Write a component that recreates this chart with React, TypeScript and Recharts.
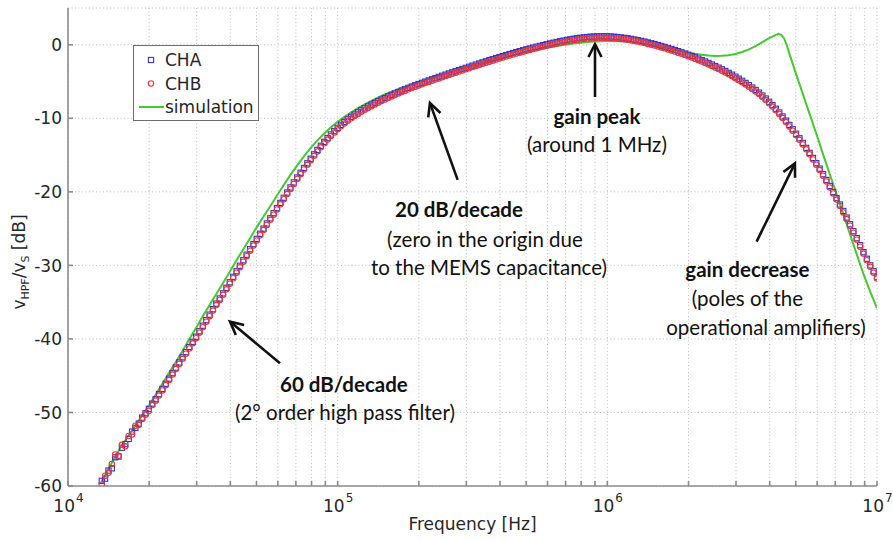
import React from 'react';
import {
  ComposedChart, Scatter, Line, XAxis, YAxis, CartesianGrid,
  ReferenceLine, ReferenceDot, Legend,
} from 'recharts';

// ---------------- data ----------------
// measurement frequencies (Hz)
const FREQ = [
  13340, 13730, 14130, 14540, 14960, 15400, 15850, 16310, 16790, 17280,
  17780, 18300, 18840, 19390, 19950, 20540, 21130, 21750, 22390, 23040,
  23710, 24410, 25120, 25850, 26610, 27380, 28180, 29010, 29850, 30720,
  31620, 32550, 33500, 34470, 35480, 36520, 37580, 38680, 39810, 40970,
  42170, 43400, 44670, 45970, 47320, 48700, 50120, 51580, 53090, 54640,
  56230, 57880, 59570, 61310, 63100, 64940, 66830, 68790, 70790, 72860,
  74990, 77180, 79430, 81750, 84140, 86600, 89130, 91730, 94410, 97160,
  100000, 102900, 105900, 109000, 112200, 115500, 118900, 122300, 125900, 129600,
  133400, 137300, 141300, 145400, 149600, 154000, 158500, 163100, 167900, 172800,
  177800, 183000, 188400, 193900, 199500, 205400, 211300, 217500, 223900, 230400,
  237100, 244100, 251200, 258500, 266100, 273800, 281800, 290100, 298500, 307200,
  316200, 325500, 335000, 344700, 354800, 365200, 375800, 386800, 398100, 409700,
  421700, 434000, 446700, 459700, 473200, 487000, 501200, 515800, 530900, 546400,
  562300, 578800, 595700, 613100, 631000, 649400, 668300, 687900, 707900, 728600,
  749900, 771800, 794300, 817500, 841400, 866000, 891300, 917300, 944100, 971600,
  1000000, 1029000, 1059000, 1090000, 1122000, 1155000, 1189000, 1223000, 1259000, 1296000,
  1334000, 1373000, 1413000, 1454000, 1496000, 1540000, 1585000, 1631000, 1679000, 1728000,
  1778000, 1830000, 1884000, 1939000, 1995000, 2054000, 2113000, 2175000, 2239000, 2304000,
  2371000, 2441000, 2512000, 2585000, 2661000, 2738000, 2818000, 2901000, 2985000, 3072000,
  3162000, 3255000, 3350000, 3447000, 3548000, 3652000, 3758000, 3868000, 3981000, 4097000,
  4217000, 4340000, 4467000, 4597000, 4732000, 4870000, 5012000, 5158000, 5309000, 5464000,
  5623000, 5788000, 5957000, 6131000, 6310000, 6494000, 6683000, 6879000, 7079000, 7286000,
  7499000, 7718000, 7943000, 8175000, 8414000, 8660000, 8913000, 9173000, 9441000, 9716000,
  10000000,
];

// channel A (dB)
const CHA = [
  -59.3, -59.0, -57.9, -57.6, -56.1, -56.0, -54.8, -54.3, -53.6, -52.6,
  -52.1, -51.5, -50.7, -50.1, -49.5, -48.8, -48.2, -47.5, -46.8, -46.1,
  -45.4, -44.65, -43.9, -43.2, -42.5, -41.8, -41.1, -40.4, -39.7, -38.95,
  -38.2, -37.45, -36.7, -35.95, -35.2, -34.5, -33.8, -33.05, -32.3, -31.55,
  -30.8, -30.05, -29.3, -28.55, -27.8, -27.1, -26.4, -25.7, -25.0, -24.3,
  -23.6, -22.9, -22.2, -21.5, -20.8, -20.1, -19.4, -18.72, -18.05, -17.4,
  -16.75, -16.12, -15.5, -14.9, -14.3, -13.74, -13.2, -12.69, -12.2, -11.74,
  -11.3, -10.89, -10.5, -10.14, -9.8, -9.49, -9.2, -8.92, -8.65, -8.39,
  -8.15, -7.91, -7.68, -7.46, -7.24, -7.03, -6.82, -6.62, -6.42, -6.23,
  -6.04, -5.86, -5.68, -5.51, -5.34, -5.17, -5.01, -4.85, -4.69, -4.53,
  -4.37, -4.21, -4.06, -3.9, -3.75, -3.6, -3.44, -3.29, -3.14, -2.99,
  -2.84, -2.69, -2.54, -2.39, -2.25, -2.1, -1.96, -1.82, -1.68, -1.54,
  -1.4, -1.26, -1.13, -1.0, -0.87, -0.74, -0.62, -0.5, -0.38, -0.26,
  -0.15, -0.04, 0.07, 0.18, 0.28, 0.38, 0.48, 0.57, 0.66, 0.74,
  0.82, 0.89, 0.95, 1.0, 1.05, 1.09, 1.12, 1.14, 1.15, 1.15,
  1.14, 1.12, 1.09, 1.05, 1.0, 0.94, 0.88, 0.8, 0.72, 0.63,
  0.53, 0.43, 0.32, 0.21, 0.09, -0.03, -0.16, -0.29, -0.43, -0.57,
  -0.72, -0.87, -1.03, -1.19, -1.36, -1.53, -1.71, -1.89, -2.08, -2.27,
  -2.47, -2.68, -2.89, -3.11, -3.34, -3.57, -3.82, -4.07, -4.34, -4.61,
  -4.9, -5.19, -5.5, -5.82, -6.15, -6.51, -6.9, -7.31, -7.75, -8.21,
  -8.7, -9.21, -9.75, -10.31, -10.9, -11.49, -12.1, -12.72, -13.35, -14.02,
  -14.7, -15.39, -16.1, -16.84, -17.6, -18.39, -19.2, -20.02, -20.85, -21.72,
  -22.6, -23.5, -24.4, -25.35, -26.3, -27.25, -28.2, -29.1, -30.0, -30.8,
  -31.6,
];

// channel B (dB)
const CHB = [
  -59.8, -58.6, -58.2, -57.0, -55.7, -55.9, -54.4, -54.6, -53.2, -53.0,
  -51.8, -51.7, -50.9, -50.3, -49.8, -49.0, -48.4, -47.7, -47.0, -46.3,
  -45.6, -44.85, -44.1, -43.4, -42.7, -42.0, -41.3, -40.6, -39.9, -39.15,
  -38.4, -37.65, -36.9, -36.15, -35.4, -34.7, -34.0, -33.25, -32.5, -31.75,
  -31.0, -30.25, -29.5, -28.75, -28.0, -27.3, -26.6, -25.9, -25.2, -24.5,
  -23.8, -23.1, -22.4, -21.7, -21.0, -20.3, -19.6, -18.92, -18.25, -17.6,
  -16.95, -16.32, -15.7, -15.1, -14.5, -13.94, -13.4, -12.89, -12.4, -11.94,
  -11.5, -11.09, -10.7, -10.34, -10.0, -9.69, -9.4, -9.12, -8.85, -8.59,
  -8.35, -8.11, -7.88, -7.66, -7.44, -7.23, -7.02, -6.82, -6.62, -6.43,
  -6.24, -6.06, -5.88, -5.71, -5.54, -5.37, -5.21, -5.05, -4.89, -4.73,
  -4.57, -4.41, -4.26, -4.1, -3.95, -3.8, -3.64, -3.49, -3.34, -3.19,
  -3.04, -2.89, -2.74, -2.59, -2.45, -2.3, -2.16, -2.02, -1.88, -1.74,
  -1.6, -1.46, -1.33, -1.2, -1.07, -0.94, -0.82, -0.7, -0.58, -0.46,
  -0.35, -0.24, -0.13, -0.02, 0.08, 0.18, 0.28, 0.37, 0.46, 0.54,
  0.62, 0.69, 0.75, 0.8, 0.85, 0.89, 0.92, 0.94, 0.95, 0.95,
  0.94, 0.92, 0.89, 0.85, 0.8, 0.74, 0.68, 0.6, 0.52, 0.43,
  0.33, 0.23, 0.12, 0.01, -0.11, -0.23, -0.36, -0.49, -0.63, -0.77,
  -0.92, -1.07, -1.23, -1.39, -1.56, -1.73, -1.91, -2.09, -2.28, -2.47,
  -2.67, -2.88, -3.09, -3.31, -3.54, -3.77, -4.02, -4.27, -4.54, -4.81,
  -5.1, -5.39, -5.7, -6.02, -6.35, -6.71, -7.1, -7.51, -7.95, -8.41,
  -8.9, -9.41, -9.95, -10.51, -11.1, -11.69, -12.3, -12.92, -13.55, -14.22,
  -14.9, -15.59, -16.3, -17.04, -17.8, -18.59, -19.4, -20.22, -21.05, -21.92,
  -22.8, -23.7, -24.6, -25.55, -26.5, -27.45, -28.4, -29.3, -30.2, -31.0,
  -31.8,
];

// simulation frequencies (Hz) and values (dB)
const SIM_FREQ = [
  13340, 14130, 14960, 15850, 16790, 17780, 18840, 19950, 21130, 22390,
  23710, 25120, 26610, 28180, 29850, 31620, 33500, 35480, 37580, 39810,
  42170, 44670, 47320, 50120, 53090, 56230, 59570, 63100, 66830, 70790,
  74990, 79430, 84140, 89130, 94410,
  100000, 105900, 112200, 118900, 125900, 133400, 141300, 149600, 158500, 167900,
  177800, 188400, 199500, 211300, 223900, 237100, 251200, 266100, 281800, 298500,
  316200, 335000, 354800, 375800, 398100, 421700, 446700, 473200, 501200, 530900,
  562300, 595700, 631000, 668300, 707900, 749900, 794300, 841400, 891300, 944100,
  1000000, 1059000, 1122000, 1189000, 1259000, 1334000, 1413000, 1496000, 1585000, 1679000,
  1778000, 1884000, 1995000, 2113000, 2239000, 2371000, 2512000, 2661000, 2818000, 2985000,
  3162000, 3350000, 3548000, 3758000, 3981000, 4217000,
  4315000, 4416000, 4519000, 4624000, 4732000, 5012000, 5309000, 5623000, 5957000, 6310000,
  6683000, 7079000, 7499000, 7943000, 8414000, 8913000, 9441000, 10000000,
];

const SIM = [
  -59.4, -57.7, -56.0, -54.5, -53.1, -51.8, -50.4, -49.1, -47.6, -46.1,
  -44.6, -43.1, -41.6, -40.0, -38.5, -36.9, -35.4, -33.9, -32.4, -30.85,
  -29.3, -27.8, -26.3, -24.8, -23.35, -21.95, -20.5, -19.08, -17.7, -16.4,
  -15.17, -14.03, -13.0, -12.07, -11.23, -10.48, -9.8, -9.18, -8.62, -8.1,
  -7.62, -7.17, -6.76, -6.38, -6.03, -5.7, -5.38, -5.07, -4.77, -4.48,
  -4.2, -3.92, -3.65, -3.4, -3.13, -2.86, -2.6, -2.35, -2.1, -1.86,
  -1.63, -1.41, -1.2, -0.99, -0.79, -0.6, -0.42, -0.25, -0.1, 0.04,
  0.16, 0.27, 0.36, 0.43, 0.48, 0.5, 0.5, 0.47, 0.41, 0.32,
  0.2, 0.06, -0.1, -0.28, -0.47, -0.67, -0.87, -1.06, -1.23, -1.37,
  -1.47, -1.52, -1.5, -1.42, -1.25, -0.98, -0.62, -0.18, 0.35, 0.9,
  1.35,
  1.5, 1.35, 0.9, 0.0, -1.2, -4.0, -6.7, -9.4, -12.1, -14.9,
  -17.6, -20.3, -23.0, -25.8, -28.5, -31.2, -33.6, -35.8,
];

const X_TICKS = [
  10000, 20000, 30000, 40000, 50000, 60000, 70000, 80000, 90000,
  100000, 200000, 300000, 400000, 500000, 600000, 700000, 800000, 900000,
  1000000, 2000000, 3000000, 4000000, 5000000, 6000000, 7000000, 8000000, 9000000,
  10000000,
];
const Y_TICKS = [-60, -50, -40, -30, -20, -10, 0];

// annotation texts: [frequency, dB, text, bold]
const NOTES: [number, number, string, boolean][] = [
  [915000, -10.77, 'gain peak', true],
  [915000, -14.58, '(around 1 MHz)', false],
  [281800, -23.42, '20 dB/decade', true],
  [351700, -27.5, '(zero in the origin due', false],
  [364000, -31.3, 'to the MEMS capacitance)', false],
  [3307000, -31.57, 'gain decrease', true],
  [3307000, -35.52, '(poles of the', false],
  [3873000, -39.46, 'operational amplifiers)', false],
  [105500, -47.21, '60 dB/decade', true],
  [106400, -51.02, '(2° order high pass filter)', false],
];

// arrows: [tailF, tailDb, headF, headDb]
const ARROWS: [number, number, number, number][] = [
  [900000, -7.1, 900000, 0.1],
  [278600, -18.38, 219900, -7.91],
  [3577000, -26.77, 4962000, -16.11],
  [61100, -43.31, 39880, -37.65],
];

const chaData = FREQ.map((f, i) => ({ f, v: CHA[i] }));
const chbData = FREQ.map((f, i) => ({ f, v: CHB[i] }));
const simData = SIM_FREQ.map((f, i) => ({ f, v: SIM[i] }));

const AXIS_FONT = '"DejaVu Sans", sans-serif';
const NOTE_FONT = 'Lato, "Open Sans", sans-serif';
const BLUE = '#3434c8';
const RED = '#e8343c';
const GREEN = '#46c832';
const FRAME = '#8c8c8c';

const SquareMark = (p: any) => (
  <rect x={p.cx - 2.6} y={p.cy - 2.6} width={5.2} height={5.2} fill="none" stroke={BLUE} strokeWidth={1.1} />
);
const CircleMark = (p: any) => (
  <circle cx={p.cx} cy={p.cy} r={2.7} fill="none" stroke={RED} strokeWidth={1.1} />
);

const XTick = (p: any) => {
  const v = p.payload.value;
  const e = Math.round(Math.log10(v));
  if (Math.abs(v - Math.pow(10, e)) > 1e-6 * v) return <g />;
  const base = p.y + 31;
  return (
    <g>
      <text x={p.x + 7} y={base} textAnchor="end" fontFamily={AXIS_FONT} fontSize={17} fill="#262626">10</text>
      <text x={p.x + 8} y={base - 10} textAnchor="start" fontFamily={AXIS_FONT} fontSize={12} fill="#262626">{e}</text>
    </g>
  );
};

const YTick = (p: any) => (
  <text x={p.x} y={p.y} dy="0.36em" textAnchor="end" fontFamily={AXIS_FONT} fontSize={17} fill="#262626">
    {p.payload.value}
  </text>
);

const Empty = () => <g />;

const Arrow = (p: any) => {
  const { x1, y1, x2, y2 } = p;
  const dx = x2 - x1;
  const dy = y2 - y1;
  const len = Math.hypot(dx, dy) || 1;
  const ux = dx / len;
  const uy = dy / len;
  const L = 13;
  const W = 6.5;
  const bx = x2 - ux * L;
  const by = y2 - uy * L;
  return (
    <g>
      <line x1={x1} y1={y1} x2={x2 - ux * 1.5} y2={y2 - uy * 1.5} stroke="#111" strokeWidth={2.6} />
      <polyline
        points={`${bx - uy * W},${by + ux * W} ${x2},${y2} ${bx + uy * W},${by - ux * W}`}
        fill="none" stroke="#111" strokeWidth={2.6} strokeLinejoin="miter"
      />
    </g>
  );
};

const noteShape = (text: string, bold: boolean) => (p: any) => (
  <text x={p.cx} y={p.cy} textAnchor="middle" fontFamily={NOTE_FONT} fontSize={20.5}
    fontWeight={bold ? 700 : 400} fill="#111">
    {text}
  </text>
);

const LegendBox = (props: any) => {
  const payload = props.payload || [];
  return (
    <div style={{ width: 126, height: 76, border: '1px solid #6e6e6e', background: '#fff', boxSizing: 'border-box' }}>
      <svg width={124} height={74} style={{ display: 'block' }}>
        {payload.map((entry: any, i: number) => {
          const cy = 14 + i * 23.5;
          let mark;
          if (i === 0) mark = <rect x={14.4} y={cy - 2.6} width={5.2} height={5.2} fill="none" stroke={BLUE} strokeWidth={1.1} />;
          else if (i === 1) mark = <circle cx={17} cy={cy} r={2.7} fill="none" stroke={RED} strokeWidth={1.1} />;
          else mark = <line x1={5} y1={cy} x2={30} y2={cy} stroke={GREEN} strokeWidth={2} />;
          return (
            <g key={i}>
              {mark}
              <text x={31} y={cy} dy="0.36em" fontFamily={AXIS_FONT} fontSize={17} fill="#262626">{entry.value}</text>
            </g>
          );
        })}
      </svg>
    </div>
  );
};

const YLabel = (p: any) => {
  const vb = p.viewBox || { x: 0, y: 8, width: 68, height: 478 };
  const cx = vb.x + 25;
  const cy = vb.y + vb.height / 2 + 15;
  return (
    <text transform={`translate(${cx},${cy}) rotate(-90)`} textAnchor="middle" fontFamily={AXIS_FONT} fontSize={17} fill="#262626">
      v<tspan fontSize={11} dy={4}>HPF</tspan>
      <tspan dy={-4}>/v</tspan>
      <tspan fontSize={11} dy={4}>S</tspan>
      <tspan dy={-4}> [dB]</tspan>
    </text>
  );
};

const XLabel = (p: any) => {
  const vb = p.viewBox || { x: 68, y: 486, width: 809, height: 55 };
  return (
    <text x={vb.x + vb.width / 2} y={vb.y + 44} textAnchor="middle" fontFamily={AXIS_FONT} fontSize={17} fill="#262626">
      Frequency [Hz]
    </text>
  );
};

export default function App() {
  return (
    <div style={{ position: 'absolute', left: 0, top: 0, width: 893, height: 541, background: '#fff' }}>
      <ComposedChart width={893} height={541} margin={{ top: 8, right: 16, bottom: 0, left: 0 }}>
        <CartesianGrid stroke="#bdbdbd" strokeDasharray="1 2.5" strokeWidth={1} />
        <XAxis
          xAxisId={0} dataKey="f" type="number" scale="log" domain={[10000, 10000000]} allowDataOverflow
          ticks={X_TICKS} interval={0} height={55} tickSize={-5} tickMargin={0}
          stroke={FRAME} strokeWidth={1.6} tick={<XTick />}
          label={<XLabel />}
        />
        <XAxis
          xAxisId="top" orientation="top" type="number" scale="log" domain={[10000, 10000000]} allowDataOverflow
          ticks={X_TICKS} interval={0} height={0} mirror tickSize={5}
          stroke={FRAME} strokeWidth={1.6} tick={<Empty />}
        />
        <YAxis
          yAxisId={0} dataKey="v" type="number" domain={[-60, 5]} allowDataOverflow
          ticks={Y_TICKS} interval={0} width={68} tickSize={-5} tickMargin={11}
          stroke={FRAME} strokeWidth={1.6} tick={<YTick />}
          label={<YLabel />}
        />
        <YAxis
          yAxisId="right" orientation="right" type="number" domain={[-60, 5]} allowDataOverflow
          ticks={Y_TICKS} interval={0} width={0} mirror tickSize={5}
          stroke={FRAME} strokeWidth={1.6} tick={<Empty />}
        />
        <Scatter name="CHA" data={chaData} dataKey="v" shape={SquareMark} isAnimationActive={false} legendType="square" fill={BLUE} />
        <Scatter name="CHB" data={chbData} dataKey="v" shape={CircleMark} isAnimationActive={false} legendType="circle" fill={RED} />
        <Line name="simulation" data={simData} dataKey="v" type="linear" stroke={GREEN} strokeWidth={2}
          dot={false} activeDot={false} isAnimationActive={false} />
        {ARROWS.map((a, i) => (
          <ReferenceLine key={`a${i}`} segment={[{ x: a[0], y: a[1] }, { x: a[2], y: a[3] }]} shape={Arrow} ifOverflow="visible" />
        ))}
        {NOTES.map((n, i) => (
          <ReferenceDot key={`n${i}`} x={n[0]} y={n[1]} r={0} shape={noteShape(n[2], n[3])} ifOverflow="visible" />
        ))}
        <Legend
          layout="vertical" align="center" verticalAlign="middle"
          wrapperStyle={{ position: 'absolute', left: 133, top: 45, width: 126, height: 76 }}
          content={<LegendBox />}
        />
      </ComposedChart>
    </div>
  );
}
